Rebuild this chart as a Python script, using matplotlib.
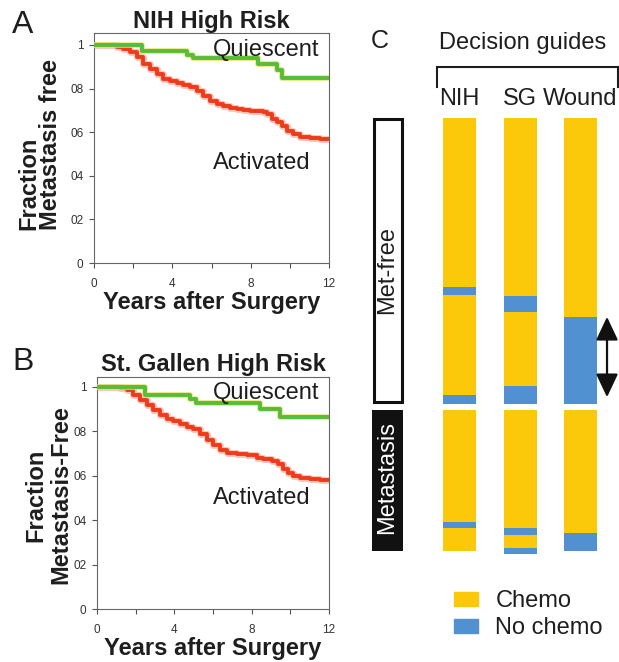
import matplotlib
matplotlib.use("Agg")
import matplotlib.pyplot as plt
import matplotlib.patheffects as pe
from matplotlib.patches import Rectangle, Patch
import numpy as np

plt.rcParams['font.family'] = ['Liberation Sans', 'DejaVu Sans']

# ---------------- data: panel A (NIH High Risk) ----------------
a_quiescent_t = [0, 2.43, 4.73, 5.07, 8.39, 9.33, 9.58, 12]
a_quiescent_s = [1.0, 0.972, 0.954, 0.939, 0.911, 0.885, 0.847, 0.847]
a_activated_t = [0, 1.16, 1.50, 1.84, 2.18, 2.52, 2.86, 3.20, 3.54, 3.88, 4.22, 4.56,
                 4.90, 5.24, 5.58, 5.92, 6.27, 6.60, 6.95, 7.29, 7.63, 7.97, 8.31,
                 8.65, 8.82, 9.07, 9.33, 9.58, 9.84, 10.18, 10.52, 11.03, 11.54, 12]
a_activated_s = [1.0, 0.992, 0.982, 0.966, 0.943, 0.913, 0.890, 0.867, 0.844, 0.836,
                 0.824, 0.818, 0.806, 0.791, 0.768, 0.745, 0.729, 0.722, 0.711, 0.706,
                 0.702, 0.699, 0.696, 0.691, 0.683, 0.661, 0.645, 0.630, 0.607, 0.592,
                 0.580, 0.572, 0.567, 0.567]

# ---------------- data: panel B (St. Gallen High Risk) ----------------
b_quiescent_t = [0, 2.48, 4.81, 5.12, 8.43, 9.47, 12]
b_quiescent_s = [1.0, 0.965, 0.947, 0.928, 0.902, 0.863, 0.863]
b_activated_t = [0, 1.19, 1.53, 1.88, 2.22, 2.57, 2.91, 3.26, 3.60, 3.95, 4.29, 4.64,
                 4.99, 5.33, 5.67, 6.02, 6.36, 6.71, 7.23, 7.74, 8.26, 8.61, 9.04,
                 9.38, 9.64, 9.90, 10.16, 10.50, 11.02, 11.54, 12]
b_activated_s = [1.0, 0.997, 0.985, 0.962, 0.940, 0.917, 0.895, 0.872, 0.857, 0.847,
                 0.835, 0.820, 0.812, 0.790, 0.760, 0.737, 0.718, 0.703, 0.700, 0.692,
                 0.682, 0.677, 0.667, 0.655, 0.632, 0.613, 0.598, 0.592, 0.587, 0.583,
                 0.583]

y_ticks = [0, 0.2, 0.4, 0.6, 0.8, 1.0]
y_ticklabels = ['0', '02', '04', '06', '08', '1']
x_ticks = [0, 2, 4, 6, 8, 10, 12]
x_ticklabels = ['0', '', '4', '', '8', '', '12']

# ---------------- data: panel C (patients per segment, top to bottom,
# alternating Chemo / No chemo, starting with Chemo) ----------------
guides = ['NIH', 'SG', 'Wound']
nih_metfree = [115, 5, 68, 6]
sg_metfree = [121, 11, 50, 12]
wound_metfree = [135, 59]
nih_metastasis = [76, 4, 16]
sg_metastasis = [80, 5, 9, 4]
wound_metastasis = [84, 12]
treatments = ['Chemo', 'No chemo']

# ---------------- styles ----------------
GREEN = '#56bd3c'
GREEN_HALO = '#e2e36a'
RED = '#f03a1c'
RED_HALO = '#f9a08a'
YELLOW = '#fcc80a'
BLUE = '#5190d1'
TXT = '#1e1e1e'
FS = 17

W, H = 619, 662
fig = plt.figure(figsize=(W / 100, H / 100), dpi=100)


def px_axes(l, t, r, b):
    return fig.add_axes([l / W, 1 - b / H, (r - l) / W, (b - t) / H])


def km_panel(ax, qt, qs, at, as_, ytop):
    ax.step(at, as_, where='post', color=RED, lw=2.8, solid_capstyle='butt',
            path_effects=[pe.Stroke(linewidth=5.0, foreground=RED_HALO, alpha=0.6), pe.Normal()],
            zorder=3)
    ax.step(qt, qs, where='post', color=GREEN, lw=2.8, solid_capstyle='butt',
            path_effects=[pe.Stroke(linewidth=4.2, foreground=GREEN_HALO, alpha=0.8), pe.Normal()],
            zorder=4)
    ax.set_xlim(0, 12)
    ax.set_ylim(0, ytop)
    ax.set_xticks(x_ticks)
    ax.set_xticklabels(x_ticklabels)
    ax.set_yticks(y_ticks)
    ax.set_yticklabels(y_ticklabels)
    ax.tick_params(axis='both', direction='out', length=3.5, width=0.8, colors='#555555',
                   labelcolor='#333333', labelsize=8.5)
    ax.tick_params(axis='x', pad=7)
    ax.tick_params(axis='y', pad=4)
    for s in ax.spines.values():
        s.set_color('#666666')
        s.set_linewidth(0.8)
    ax.set_xlabel('Years after Surgery', fontsize=FS, fontweight='bold', color=TXT, labelpad=1)


# ---------------- panel A ----------------
axA = px_axes(94, 33, 329, 263)
km_panel(axA, a_quiescent_t, a_quiescent_s, a_activated_t, a_activated_s, 1.055)
axA.set_title('NIH High Risk', fontsize=FS, fontweight='bold', color=TXT, pad=2.5)
axA.text(6.08, 0.977, 'Quiescent', fontsize=FS, color=TXT, ha='left', va='center', zorder=5)
axA.text(6.08, 0.459, 'Activated', fontsize=FS, color=TXT, ha='left', va='center')
fig.text(39.5 / W, 1 - 145 / H, 'Fraction\nMetastasis free', rotation=90, ha='center',
         va='center', multialignment='left', fontsize=FS, fontweight='bold', color=TXT,
         linespacing=0.95)
fig.text(12 / W, 1 - 25 / H, 'A', fontsize=23, color=TXT, ha='left', va='center')

# ---------------- panel B ----------------
axB = px_axes(97, 377, 329, 609)
km_panel(axB, b_quiescent_t, b_quiescent_s, b_activated_t, b_activated_s, 1.045)
axB.set_title('St. Gallen High Risk', fontsize=FS, fontweight='bold', color=TXT, pad=4.5)
axB.text(6.0, 0.973, 'Quiescent', fontsize=FS, color=TXT, ha='left', va='center', zorder=5)
axB.text(6.0, 0.50, 'Activated', fontsize=FS, color=TXT, ha='left', va='center')
fig.text(48.5 / W, 1 - 495 / H, 'Fraction\nMetastasis-Free', rotation=90, ha='center',
         va='center', multialignment='center', fontsize=FS, fontweight='bold', color=TXT,
         linespacing=1.1)
fig.text(12 / W, 1 - 361.5 / H, 'B', fontsize=23, color=TXT, ha='left', va='center')

# ---------------- panel C ----------------
axC = px_axes(360, 20, 619, 650)
axC.set_xlim(-1.645, 2.636)
axC.set_ylim(361.1, -66.5)
axC.axis('off')

metfree = [nih_metfree, sg_metfree, wound_metfree]
metastasis = [nih_metastasis, sg_metastasis, wound_metastasis]
colors = {treatments[0]: YELLOW, treatments[1]: BLUE}
bar_w = 0.545
gap = 4
mf_total = sum(nih_metfree)
mt_start = mf_total + gap

for i, g in enumerate(guides):
    for segs, start in ((metfree[i], 0), (metastasis[i], mt_start)):
        bottoms = start + np.concatenate([[0], np.cumsum(segs)[:-1]])
        cols = [colors[treatments[k % 2]] for k in range(len(segs))]
        axC.bar([i] * len(segs), segs, bottom=bottoms, width=bar_w, color=cols,
                edgecolor='none', linewidth=0)
    axC.text(i, -12.9, g, fontsize=FS, color=TXT, ha='center', va='center')

# group boxes
box_x = -1.19
box_w = 0.463
axC.add_patch(Rectangle((box_x - box_w / 2, 1.0), box_w, mf_total - 2.3, facecolor='white',
                        edgecolor='#111111', lw=2.2))
axC.text(box_x, 103, 'Met-free', rotation=90, fontsize=FS, color=TXT, ha='center', va='center')
mt_total = sum(nih_metastasis)
axC.add_patch(Rectangle((box_x - 0.512 / 2, mt_start), 0.512, mt_total, facecolor='#111111',
                        edgecolor='none'))
axC.text(box_x, 244, 'Metastasis', rotation=90, fontsize=FS, color='white', ha='center',
         va='center')

# double arrow over the wound no-chemo block
w_nochemo_top = wound_metfree[0]
axC.annotate('', xy=(2.438, w_nochemo_top), xytext=(2.438, mf_total - 4.5),
             arrowprops=dict(arrowstyle='<|-|>,head_length=0.72,head_width=0.34',
                             mutation_scale=20, lw=1.6, color='#111111',
                             shrinkA=0, shrinkB=0))

# bracket and header
axC.plot([-0.372, -0.372, 2.62, 2.62], [-21, -34.6, -34.6, -21], color='#1e1e1e', lw=1.5,
         solid_joinstyle='miter', clip_on=False)
axC.text(1.05, -50.9, 'Decision guides', fontsize=FS, color=TXT, ha='center', va='center')
axC.text(-1.314, -52.3, 'C', fontsize=18, color=TXT, ha='center', va='center')

leg = axC.legend(handles=[Patch(color=YELLOW, label=treatments[0]),
                          Patch(color=BLUE, label=treatments[1])],
                 loc='upper left', bbox_to_anchor=(454 / W, 1 - 590 / H),
                 bbox_transform=fig.transFigure, frameon=False, fontsize=FS,
                 handlelength=1.0, handleheight=0.55, handletextpad=0.75,
                 labelspacing=0.22, borderpad=0, borderaxespad=0)
for t in leg.get_texts():
    t.set_color(TXT)

fig.savefig('out.png', dpi=100)
